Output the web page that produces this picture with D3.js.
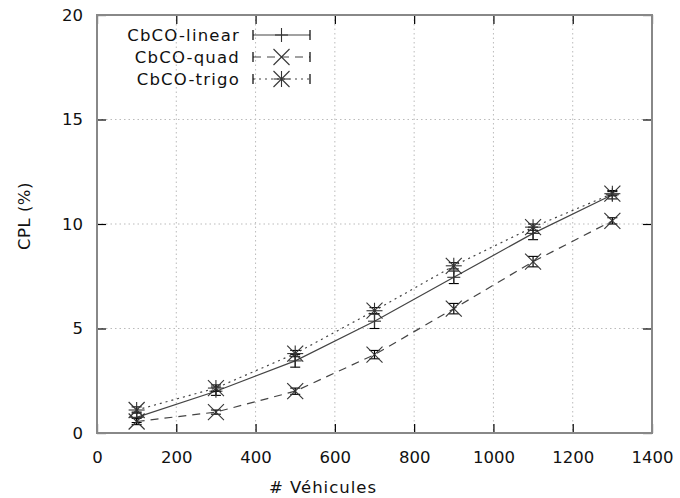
<!DOCTYPE html>
<html>
<head>
<meta charset="utf-8">
<script src="https://cdn.jsdelivr.net/npm/d3@7"></script>
<style>
  body { margin: 0; background: #fff; }
  text { font-family: "DejaVu Sans", sans-serif; fill: #111; }
</style>
</head>
<body>
<div id="root"></div>
<script>
// data
const vehicles = [100, 300, 500, 700, 900, 1100, 1300]
const seriesNames = ["CbCO-linear", "CbCO-quad", "CbCO-trigo"]
const linearCpl = [0.75, 2.0, 3.45, 5.35, 7.45, 9.55, 11.4]
const quadCpl = [0.55, 1.0, 2.0, 3.75, 5.95, 8.2, 10.15]
const trigoCpl = [1.1, 2.15, 3.8, 5.85, 8.0, 9.85, 11.45]
const linearErr = [0.25, 0.2, 0.3, 0.35, 0.3, 0.3, 0.2]
const quadErr = [0.15, 0.1, 0.15, 0.2, 0.25, 0.25, 0.15]
const trigoErr = [0.15, 0.15, 0.15, 0.15, 0.15, 0.15, 0.1]
const xTicks = [0, 200, 400, 600, 800, 1000, 1200, 1400]
const yTicks = [0, 5, 10, 15, 20]

const width = 680, height = 498
const margin = { top: 15, right: 28, bottom: 65, left: 97 }
const inner = {
  width: width - margin.left - margin.right,
  height: height - margin.top - margin.bottom
}

const svg = d3.select("#root").append("svg")
  .attr("width", width)
  .attr("height", height)

const bound = svg.append("g")
  .attr("transform", `translate(${margin.left},${margin.top})`)

const xScale = d3.scaleLinear().domain([0, 1400]).range([0, inner.width])
const yScale = d3.scaleLinear().domain([0, 20]).range([inner.height, 0])

// grid
bound.append("g").selectAll("line")
  .data(xTicks.slice(1, -1))
  .join("line")
  .attr("x1", d => xScale(d)).attr("x2", d => xScale(d))
  .attr("y1", 0).attr("y2", inner.height)
  .attr("stroke", "#bbb").attr("stroke-dasharray", "1.5,3")
bound.append("g").selectAll("line")
  .data(yTicks.slice(1, -1))
  .join("line")
  .attr("y1", d => yScale(d)).attr("y2", d => yScale(d))
  .attr("x1", 0).attr("x2", inner.width)
  .attr("stroke", "#bbb").attr("stroke-dasharray", "1.5,3")

// axes (ticks drawn inward, mirrored)
const fontSize = 16.5
const fmt = d3.format("d")
const xAxis = bound.append("g")
  .attr("transform", `translate(0,${inner.height})`)
  .call(d3.axisBottom(xScale).tickValues(xTicks).tickFormat(fmt).tickSizeInner(-9).tickSizeOuter(0).tickPadding(18))
const xAxisTop = bound.append("g")
  .call(d3.axisTop(xScale).tickValues(xTicks).tickSizeInner(-9).tickSizeOuter(0).tickFormat(""))
const yAxis = bound.append("g")
  .call(d3.axisLeft(yScale).tickValues(yTicks).tickFormat(fmt).tickSizeInner(-9).tickSizeOuter(0).tickPadding(14))
const yAxisRight = bound.append("g")
  .attr("transform", `translate(${inner.width},0)`)
  .call(d3.axisRight(yScale).tickValues(yTicks).tickSizeInner(-9).tickSizeOuter(0).tickFormat(""))

;[xAxis, xAxisTop, yAxis, yAxisRight].forEach(ax => {
  ax.select(".domain").remove()
  ax.selectAll(".tick line").attr("stroke", "#000").attr("stroke-width", 1.2)
  ax.selectAll(".tick text").style("font-size", `${fontSize}px`).attr("fill", "#111")
})

// frame
bound.append("rect")
  .attr("width", inner.width).attr("height", inner.height)
  .attr("fill", "none").attr("stroke", "#888").attr("stroke-width", 2)

// axis titles
svg.append("text")
  .attr("x", 323)
  .attr("y", 493)
  .attr("text-anchor", "middle")
  .style("font-size", `${fontSize}px`)
  .style("letter-spacing", "1px")
  .text("# Véhicules")
svg.append("text")
  .attr("transform", `translate(30,216) rotate(-90)`)
  .attr("text-anchor", "middle")
  .style("font-size", `${fontSize}px`)
  .style("letter-spacing", "0.5px")
  .text("CPL (%)")

// series
const series = [
  { name: seriesNames[0], values: linearCpl, err: linearErr, dash: null, marker: "plus" },
  { name: seriesNames[1], values: quadCpl, err: quadErr, dash: "8,6", marker: "cross" },
  { name: seriesNames[2], values: trigoCpl, err: trigoErr, dash: "2,4", marker: "star" }
]
const lineColor = "#444"
const markColor = "#333"

function drawMarker(g, type, size) {
  const h = size / 2
  const segs = []
  if (type === "plus" || type === "star") segs.push([-h, 0, h, 0], [0, -h, 0, h])
  if (type === "cross" || type === "star") segs.push([-h, -h, h, h], [-h, h, h, -h])
  g.selectAll("line.m").data(segs).join("line").attr("class", "m")
    .attr("x1", d => d[0]).attr("y1", d => d[1])
    .attr("x2", d => d[2]).attr("y2", d => d[3])
    .attr("stroke", markColor).attr("stroke-width", 1.1)
}

const line = d3.line()
  .x(d => xScale(d[0]))
  .y(d => yScale(d[1]))

series.forEach(s => {
  const pts = vehicles.map((v, i) => [v, s.values[i], s.err[i]])
  bound.append("path")
    .datum(pts)
    .attr("d", line)
    .attr("fill", "none")
    .attr("stroke", lineColor)
    .attr("stroke-width", 1.2)
    .attr("stroke-dasharray", s.dash)

  const g = bound.append("g").selectAll("g")
    .data(pts).join("g")
    .attr("transform", d => `translate(${xScale(d[0])},${yScale(d[1])})`)
  // error bars
  g.append("line")
    .attr("x1", 0).attr("x2", 0)
    .attr("y1", d => yScale(d[1] + d[2]) - yScale(d[1]))
    .attr("y2", d => yScale(d[1] - d[2]) - yScale(d[1]))
    .attr("stroke", "#000").attr("stroke-width", 1.2)
  ;[1, -1].forEach(sign => {
    g.append("line")
      .attr("x1", -5).attr("x2", 5)
      .attr("y1", d => yScale(d[1] + sign * d[2]) - yScale(d[1]))
      .attr("y2", d => yScale(d[1] + sign * d[2]) - yScale(d[1]))
      .attr("stroke", "#000").attr("stroke-width", 1.1)
  })
  g.each(function() { drawMarker(d3.select(this), s.marker, s.marker === "plus" ? 13 : 16) })
})

// legend
const legend = bound.append("g")
const legendRows = [20, 42, 64]
series.forEach((s, i) => {
  const y = legendRows[i]
  const row = legend.append("g").attr("transform", `translate(0,${y})`)
  row.append("text")
    .attr("x", 143).attr("dy", "0.35em")
    .attr("text-anchor", "end")
    .style("font-size", `${fontSize}px`)
    .style("letter-spacing", "1.2px")
    .text(s.name)
  row.append("line")
    .attr("x1", 156).attr("x2", 213)
    .attr("stroke", lineColor).attr("stroke-width", 1.2)
    .attr("stroke-dasharray", s.dash)
  ;[156, 213].forEach(x => {
    row.append("line")
      .attr("x1", x).attr("x2", x).attr("y1", -5).attr("y2", 5)
      .attr("stroke", "#000").attr("stroke-width", 1.2)
  })
  const m = row.append("g").attr("transform", "translate(184.5,0)")
  drawMarker(m, s.marker, s.marker === "plus" ? 13 : 16)
  if (s.marker === "plus") {
    m.selectAll("line.m").filter((d, k) => k === 1).attr("y1", -7).attr("y2", 7)
  }
})
</script>
</body>
</html>
